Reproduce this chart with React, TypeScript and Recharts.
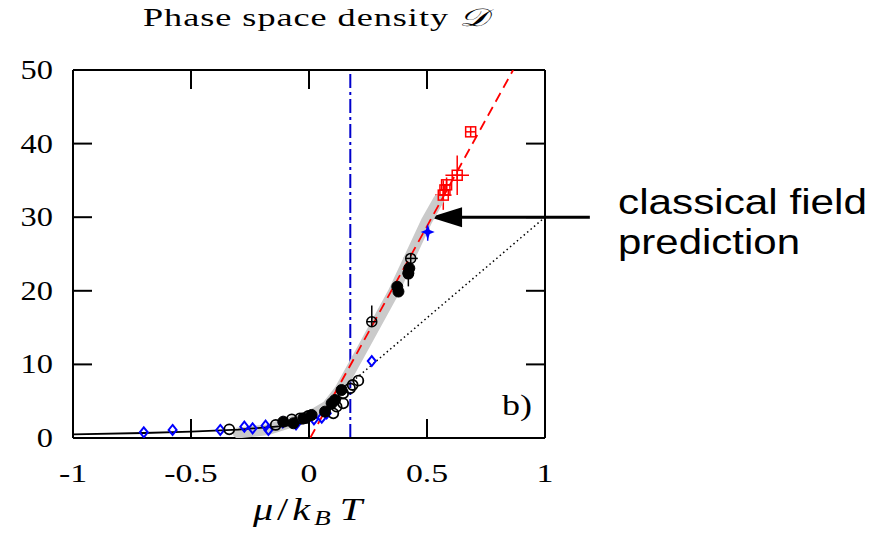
import React from "react";
import {
  ComposedChart,
  Scatter,
  XAxis,
  YAxis,
  ReferenceLine,
  ErrorBar,
} from "recharts";

const X_TICKS = [-1, -0.5, 0, 0.5, 1];
const Y_TICKS = [0, 10, 20, 30, 40, 50];
const X_TICK_LABELS = ["-1", "-0.5", "0", "0.5", "1"];

// blue open diamonds
const DIAMOND_X = [-0.7, -0.578, -0.376, -0.274, -0.239, -0.184, -0.172, -0.111, -0.055, 0.021, 0.054, 0.075, 0.266];
const DIAMOND_Y = [0.77, 1.09, 1.09, 1.54, 1.31, 1.68, 1.09, 2.13, 1.86, 2.54, 2.76, 3.35, 10.46];

// black open circles
const OPEN_X = [-0.338, -0.141, -0.073, -0.038, -0.003, 0.103, 0.117, 0.145, 0.145, 0.174, 0.185, 0.209];
const OPEN_Y = [1.18, 1.77, 2.54, 2.67, 2.99, 3.35, 4.26, 4.71, 6.07, 6.75, 7.2, 7.79];

// black filled circles
const FILLED_X = [-0.109, -0.066, -0.024, 0.011, 0.068, 0.096, 0.11, 0.138, 0.374, 0.379, 0.425, 0.421];
const FILLED_Y = [2.22, 2.0, 2.67, 3.13, 3.58, 4.71, 5.16, 6.52, 20.56, 19.9, 23.06, 22.4];

// black circles with cross, with error bars
const CROSS_X = [0.266, 0.431, 0.421];
const CROSS_Y = [15.8, 24.4, 22.3];
const CROSS_EX = [0, 0.03, 0];
const CROSS_EY = [2.2, 1.5, 1.7];

// red squares with cross
const RED_X = [0.685, 0.628, 0.583, 0.576, 0.569];
const RED_Y = [41.6, 35.7, 34.4, 33.7, 33.0];
const RED_EX = [0, 0.05, 0, 0, 0.035];
const RED_EY = [0, 2.7, 1, 0.8, 2];

// blue star
const STAR_X = [0.503];
const STAR_Y = [28.0];
const STAR_EY = [1.2];

// curves
const THERMAL_X = [-1, -0.7, -0.5, -0.3, -0.1, 0.0];
const THERMAL_Y = [0.5, 0.68, 0.86, 1.15, 1.65, 2.1];

const BAND_X = [-0.3, -0.18, -0.07, 0.0, 0.076, 0.13, 0.216, 0.356, 0.5, 0.55];
const BAND_Y = [0.7, 1.1, 2.2, 2.9, 4.3, 6.5, 11.5, 19.7, 29.6, 32.4];

const FIT_X = [0.005, 0.865];
const FIT_Y = [0, 50];

const DOTTED_X = [0.17, 1];
const DOTTED_Y = [7.3, 30];

const TC_X = 0.175;

const TICK_LEN = 19;
const X_MIN = X_TICKS[0];
const X_MAX = X_TICKS[X_TICKS.length - 1];
const Y_MIN = Y_TICKS[0];
const Y_MAX = Y_TICKS[Y_TICKS.length - 1];

// chart geometry
const W = 890;
const H = 538;
const MARGIN = { top: 69, right: 344, bottom: 60, left: 13 };
const LEFT_AXIS_W = 60;
const RIGHT_AXIS_W = 1;
const TOP_AXIS_H = 1;
const BOTTOM_AXIS_H = 40;
const PLOT_L = MARGIN.left + LEFT_AXIS_W;
const PLOT_R = W - MARGIN.right - RIGHT_AXIS_W;
const PLOT_T = MARGIN.top + TOP_AXIS_H;
const PLOT_B = H - MARGIN.bottom - BOTTOM_AXIS_H;
const tickX = (v: number) => PLOT_L + ((v - X_MIN) / (X_MAX - X_MIN)) * (PLOT_R - PLOT_L);
const tickY = (v: number) => PLOT_B - ((v - Y_MIN) / (Y_MAX - Y_MIN)) * (PLOT_B - PLOT_T);

const zip = (xs: number[], ys: number[], ex?: number[], ey?: number[]) =>
  xs.map((x, i) => ({ x, y: ys[i], ex: ex ? ex[i] : 0, ey: ey ? ey[i] : 0 }));

const none = () => <g />;

const Diamond = (p: any) => (
  <polygon
    points={`${p.cx},${p.cy - 5} ${p.cx + 4},${p.cy} ${p.cx},${p.cy + 5} ${p.cx - 4},${p.cy}`}
    fill="none"
    stroke="#0000ff"
    strokeWidth={2}
  />
);
const OpenCircle = (p: any) => <circle cx={p.cx} cy={p.cy} r={5} fill="none" stroke="#000" strokeWidth={1.8} />;
const FilledCircle = (p: any) => <circle cx={p.cx} cy={p.cy} r={5.5} fill="#000" stroke="#000" strokeWidth={1} />;
const CrossCircle = (p: any) => (
  <g stroke="#000" strokeWidth={1.5} fill="none">
    <circle cx={p.cx} cy={p.cy} r={5} />
    <line x1={p.cx - 5} y1={p.cy} x2={p.cx + 5} y2={p.cy} />
    <line x1={p.cx} y1={p.cy - 5} x2={p.cx} y2={p.cy + 5} />
  </g>
);
const RedSquare = (p: any) => (
  <g stroke="#ff0000" strokeWidth={1.5} fill="none">
    <rect x={p.cx - 5} y={p.cy - 5} width={10} height={10} />
    <line x1={p.cx - 5} y1={p.cy} x2={p.cx + 5} y2={p.cy} />
    <line x1={p.cx} y1={p.cy - 5} x2={p.cx} y2={p.cy + 5} />
  </g>
);
const Star = (p: any) => {
  const { cx, cy } = p;
  return (
    <polygon
      points={`${cx},${cy - 8} ${cx + 2},${cy - 2} ${cx + 7},${cy} ${cx + 2},${cy + 2} ${cx},${cy + 8} ${cx - 2},${cy + 2} ${cx - 7},${cy} ${cx - 2},${cy - 2}`}
      fill="#0000ff"
    />
  );
};

const Arrow = (p: any) => {
  const tip = Math.min(p.x1, p.x2);
  const tail = Math.max(p.x1, p.x2);
  const y = p.y1;
  return (
    <g>
      <line x1={tip + 20} y1={y} x2={tail} y2={y} stroke="#000" strokeWidth={3} />
      <polygon points={`${tip},${y} ${tip + 32},${y - 10} ${tip + 32},${y + 10}`} fill="#000" />
    </g>
  );
};

const serif = "'Liberation Serif', 'DejaVu Serif', serif";

const BottomTick = (p: any) => {
  const i = X_TICKS.indexOf(p.payload.value);
  return (
    <g transform={`translate(${p.x},${p.y + 44})`}>
      <text transform="scale(1.3,1)" textAnchor="middle" fontFamily={serif} fontSize={26} fill="#000">
        {X_TICK_LABELS[i]}
      </text>
    </g>
  );
};
const LeftTick = (p: any) => (
  <g transform={`translate(${p.x - 20},${p.y + 9})`}>
    <text transform="scale(1.2,1)" textAnchor="end" fontFamily={serif} fontSize={27} fill="#000">
      {p.payload.value}
    </text>
  </g>
);

const axisLine = { stroke: "#000", strokeWidth: 2 };

export default function App() {
  return (
    <div style={{ position: "absolute", left: 0, top: 0, width: W, height: H, background: "#fff" }}>
      <ComposedChart width={W} height={H} margin={MARGIN}>
        <XAxis
          dataKey="x"
          type="number"
          domain={[X_MIN, X_MAX]}
          ticks={X_TICKS}
          allowDataOverflow
          height={BOTTOM_AXIS_H}
          axisLine={axisLine}
          tickLine={false}
          tickSize={0}
          tickMargin={0}
          tick={BottomTick}
          interval={0}
        />
        <XAxis
          xAxisId="top"
          orientation="top"
          type="number"
          domain={[X_MIN, X_MAX]}
          ticks={X_TICKS}
          height={TOP_AXIS_H}
          axisLine={axisLine}
          tickLine={false}
          tick={false}
        />
        <YAxis
          dataKey="y"
          type="number"
          domain={[Y_MIN, Y_MAX]}
          ticks={Y_TICKS}
          allowDataOverflow
          width={LEFT_AXIS_W}
          axisLine={axisLine}
          tickLine={false}
          tickSize={0}
          tickMargin={0}
          tick={LeftTick}
          interval={0}
        />
        <YAxis
          yAxisId="right"
          orientation="right"
          type="number"
          domain={[Y_MIN, Y_MAX]}
          ticks={Y_TICKS}
          width={RIGHT_AXIS_W}
          axisLine={axisLine}
          tickLine={false}
          tick={false}
        />

        <Scatter
          data={zip(BAND_X, BAND_Y)}
          line={{ stroke: "#cacaca", strokeWidth: 11, strokeLinecap: "round", strokeLinejoin: "round" }}
          shape={none}
          isAnimationActive={false}
        />
        <Scatter
          data={zip(THERMAL_X, THERMAL_Y)}
          line={{ stroke: "#000", strokeWidth: 1.8 }}
          shape={none}
          isAnimationActive={false}
        />
        <Scatter
          data={zip(DOTTED_X, DOTTED_Y)}
          line={{ stroke: "#000", strokeWidth: 1.5, strokeDasharray: "1.5 3" }}
          shape={none}
          isAnimationActive={false}
        />
        <Scatter
          data={zip(FIT_X, FIT_Y)}
          line={{ stroke: "#ff0000", strokeWidth: 1.8, strokeDasharray: "10 6" }}
          shape={none}
          isAnimationActive={false}
        />
        <ReferenceLine x={TC_X} stroke="#0000cc" strokeWidth={2} strokeDasharray="14 4 3 4" />

        <Scatter data={zip(DIAMOND_X, DIAMOND_Y)} shape={Diamond} isAnimationActive={false} />
        <Scatter data={zip(OPEN_X, OPEN_Y)} shape={OpenCircle} isAnimationActive={false} />
        <Scatter data={zip(FILLED_X, FILLED_Y)} shape={FilledCircle} isAnimationActive={false} />
        <Scatter data={zip(CROSS_X, CROSS_Y, CROSS_EX, CROSS_EY)} shape={CrossCircle} isAnimationActive={false}>
          <ErrorBar dataKey="ey" direction="y" width={0} stroke="#000" strokeWidth={1.5} isAnimationActive={false} />
          <ErrorBar dataKey="ex" direction="x" width={0} stroke="#000" strokeWidth={1.5} isAnimationActive={false} />
        </Scatter>
        <Scatter data={zip(RED_X, RED_Y, RED_EX, RED_EY)} shape={RedSquare} isAnimationActive={false}>
          <ErrorBar dataKey="ey" direction="y" width={0} stroke="#ff0000" strokeWidth={1.5} isAnimationActive={false} />
          <ErrorBar dataKey="ex" direction="x" width={0} stroke="#ff0000" strokeWidth={1.5} isAnimationActive={false} />
        </Scatter>
        <Scatter data={zip(STAR_X, STAR_Y, undefined, STAR_EY)} shape={Star} isAnimationActive={false}>
          <ErrorBar dataKey="ey" direction="y" width={0} stroke="#0000ff" strokeWidth={1.5} isAnimationActive={false} />
        </Scatter>

        <ReferenceLine
          segment={[
            { x: 0.513, y: 30 },
            { x: 1.19, y: 30 },
          ]}
          ifOverflow="visible"
          shape={Arrow}
        />
      </ComposedChart>

      {/* inward tick stubs on all sides, titles and annotation text */}
      <svg width={W} height={H} style={{ position: "absolute", left: 0, top: 0, pointerEvents: "none" }}>
        <g stroke="#000" strokeWidth={2}>
          {X_TICKS.slice(1, -1).map((v) => (
            <g key={`x${v}`}>
              <line x1={tickX(v)} y1={PLOT_B} x2={tickX(v)} y2={PLOT_B - TICK_LEN} />
              <line x1={tickX(v)} y1={PLOT_T} x2={tickX(v)} y2={PLOT_T + TICK_LEN} />
            </g>
          ))}
          {Y_TICKS.slice(1, -1).map((v) => (
            <g key={`y${v}`}>
              <line x1={PLOT_L} y1={tickY(v)} x2={PLOT_L + TICK_LEN} y2={tickY(v)} />
              <line x1={PLOT_R} y1={tickY(v)} x2={PLOT_R - TICK_LEN} y2={tickY(v)} />
            </g>
          ))}
        </g>
        <g transform="translate(143,26) scale(1.45,1)">
          <text x={0} y={0} fontFamily={serif} fontSize={25} textLength={238} lengthAdjust="spacing">
            Phase space density <tspan fontStyle="italic">𝒟</tspan>
          </text>
        </g>
        <g transform="translate(253,520) scale(1.3,1)">
          <text x={0} y={0} fontFamily={serif} fontSize={31} textLength={84} lengthAdjust="spacing">
            <tspan fontStyle="italic">μ</tspan>/<tspan fontStyle="italic">k</tspan>
            <tspan fontSize={21} fontStyle="italic" dy={5}>B</tspan>
            <tspan fontStyle="italic" dy={-5} dx={4}>T</tspan>
          </text>
        </g>
        <g transform="translate(502,415) scale(1.2,1)">
          <text x={0} y={0} fontFamily={serif} fontSize={30}>
            b)
          </text>
        </g>
        <text x={618} y={214} fontFamily="'Liberation Sans', Arial, sans-serif" fontSize={35} textLength={249} lengthAdjust="spacingAndGlyphs">
          classical field
        </text>
        <text x={618} y={254} fontFamily="'Liberation Sans', Arial, sans-serif" fontSize={35} textLength={182} lengthAdjust="spacingAndGlyphs">
          prediction
        </text>
      </svg>
    </div>
  );
}
